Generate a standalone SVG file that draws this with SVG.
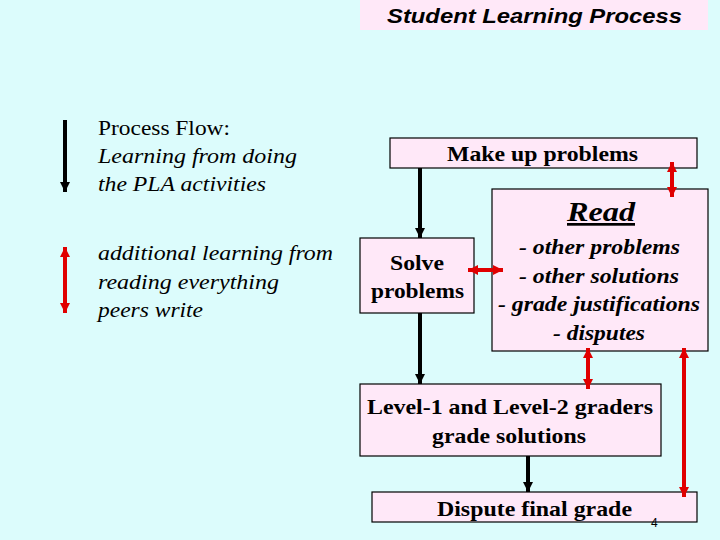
<svg xmlns="http://www.w3.org/2000/svg" width="720" height="540" viewBox="0 0 720 540">
<defs>
<marker id="ab" viewBox="0 0 10 10" refX="10" refY="5" markerWidth="10" markerHeight="10" markerUnits="userSpaceOnUse" orient="auto"><path d="M0,0 L10,5 L0,10 z" fill="#000"/></marker>
<marker id="ar" viewBox="0 0 10 10" refX="10" refY="5" markerWidth="10" markerHeight="10" markerUnits="userSpaceOnUse" orient="auto"><path d="M0,0 L10,5 L0,10 z" fill="#e00000"/></marker>
<marker id="arS" viewBox="0 0 10 10" refX="0" refY="5" markerWidth="10" markerHeight="10" markerUnits="userSpaceOnUse" orient="auto"><path d="M10,0 L0,5 L10,10 z" fill="#e00000"/></marker>
</defs>
<style>
.box{fill:#ffe8f8;stroke:#000;stroke-width:1.2}
.t{font-family:"Liberation Serif",serif;font-size:21px;fill:#000}
.b{font-weight:bold;font-size:22px}
.i{font-style:italic}
.blk{stroke:#000;stroke-width:4;fill:none;marker-end:url(#ab)}
.red{stroke:#e00000;stroke-width:4;fill:none;marker-end:url(#ar);marker-start:url(#arS)}
</style>
<rect width="720" height="540" fill="#dcfcfc"/>
<g id="title">
<rect x="360" y="0" width="348" height="30" fill="#ffe8f8"/>
<text x="387" y="23" font-family="Liberation Sans,Arial,sans-serif" font-size="21" font-weight="bold" font-style="italic" textLength="295" lengthAdjust="spacingAndGlyphs">Student Learning Process</text>
</g>
<g id="legend">
<line x1="65" y1="120" x2="65" y2="192" class="blk"/>
<line x1="65" y1="247" x2="65" y2="313" class="red"/>
<text class="t" x="98" y="135" textLength="132" lengthAdjust="spacingAndGlyphs">Process Flow:</text>
<text class="t i" x="98" y="163" textLength="199" lengthAdjust="spacingAndGlyphs">Learning from doing</text>
<text class="t i" x="98" y="191" textLength="168" lengthAdjust="spacingAndGlyphs">the PLA activities</text>
<text class="t i" x="98" y="260" textLength="235" lengthAdjust="spacingAndGlyphs">additional learning from</text>
<text class="t i" x="98" y="289" textLength="181" lengthAdjust="spacingAndGlyphs">reading everything</text>
<text class="t i" x="98" y="317" textLength="105" lengthAdjust="spacingAndGlyphs">peers write</text>
</g>
<g id="makeup">
<rect class="box" x="390" y="138" width="307" height="30"/>
<text class="t b" x="447" y="161" textLength="191" lengthAdjust="spacingAndGlyphs">Make up problems</text>
</g>
<g id="read">
<rect class="box" x="492" y="189" width="216" height="162"/>
<text class="t b i" x="567" y="221" text-decoration="underline" textLength="68" lengthAdjust="spacingAndGlyphs" style="font-size:27px">Read</text>
<text class="t b i" x="519" y="254" textLength="161" lengthAdjust="spacingAndGlyphs">- other problems</text>
<text class="t b i" x="519" y="283" textLength="160" lengthAdjust="spacingAndGlyphs">- other solutions</text>
<text class="t b i" x="498" y="311" textLength="202" lengthAdjust="spacingAndGlyphs">- grade justifications</text>
<text class="t b i" x="553" y="340" textLength="92" lengthAdjust="spacingAndGlyphs">- disputes</text>
</g>
<g id="solve">
<rect class="box" x="360" y="238" width="114" height="75"/>
<text class="t b" x="390" y="270" textLength="54" lengthAdjust="spacingAndGlyphs">Solve</text>
<text class="t b" x="371" y="298" textLength="93" lengthAdjust="spacingAndGlyphs">problems</text>
</g>
<g id="level">
<rect class="box" x="360" y="384" width="301" height="72"/>
<text class="t b" x="367" y="414" textLength="286" lengthAdjust="spacingAndGlyphs">Level-1 and Level-2 graders</text>
<text class="t b" x="432" y="443" textLength="154" lengthAdjust="spacingAndGlyphs">grade solutions</text>
</g>
<g id="dispute">
<rect class="box" x="372" y="492" width="325" height="30"/>
<text class="t b" x="437" y="516" textLength="195" lengthAdjust="spacingAndGlyphs">Dispute final grade</text>
<text x="651" y="527" font-family="Liberation Sans,Arial,sans-serif" font-size="12">4</text>
</g>
<g id="connectors">
<line x1="420" y1="168" x2="420" y2="238" class="blk"/>
<line x1="420" y1="313" x2="420" y2="384" class="blk"/>
<line x1="528" y1="456" x2="528" y2="492" class="blk"/>
<line x1="672" y1="162" x2="672" y2="197" class="red"/>
<line x1="468" y1="270" x2="503" y2="270" class="red"/>
<line x1="588" y1="348" x2="588" y2="389" class="red"/>
<line x1="684" y1="348" x2="684" y2="497" class="red"/>
</g>
</svg>
